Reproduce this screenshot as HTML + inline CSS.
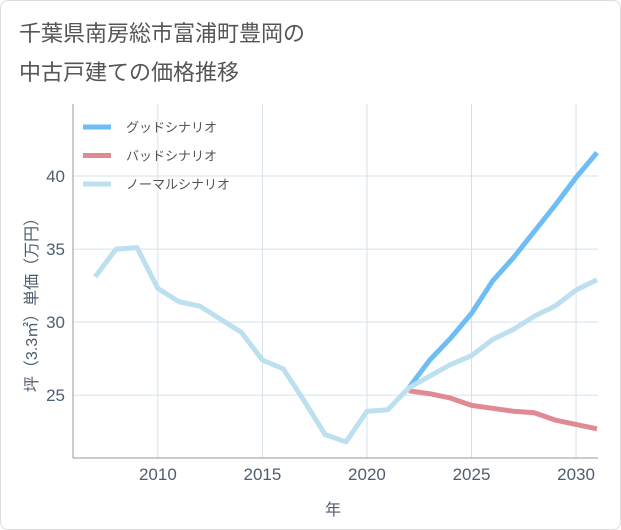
<!DOCTYPE html>
<html><head><meta charset="utf-8"><style>
body{margin:0;background:#fff;}
#c{position:relative;width:621px;height:530px;background:#fff;border:1px solid #ddd;box-sizing:border-box;border-radius:8px;overflow:hidden;font-family:"Liberation Sans","Noto Sans CJK JP",sans-serif;}
.t{position:absolute;left:18px;font-size:22px;color:#555;}
</style></head><body>
<div id="c">
<div class="t" style="top:15px">千葉県南房総市富浦町豊岡の</div>
<div class="t" style="top:54px">中古戸建ての価格推移</div>
<svg id="s" width="621" height="530" style="position:absolute;left:0;top:0"></svg>
</div>
<script>
const years=[2007,2008,2009,2010,2011,2012,2013,2014,2015,2016,2017,2018,2019,2020,2021,2022,2023,2024,2025,2026,2027,2028,2029,2030,2031];
const normal=[33.1,35.0,35.1,32.3,31.4,31.1,30.2,29.3,27.4,26.8,24.6,22.3,21.8,23.9,24.0,25.5,26.3,27.1,27.7,28.8,29.5,30.4,31.1,32.2,32.9];
const fYears=[2022,2023,2024,2025,2026,2027,2028,2029,2030,2031];
const good=[25.5,27.4,28.9,30.6,32.8,34.4,36.2,38.0,39.9,41.6];
const bad=[25.3,25.1,24.8,24.3,24.1,23.9,23.8,23.3,23.0,22.7];
const xTicks=[2010,2015,2020,2025,2030];
const yTicks=[25,30,35,40];
const L=72,R=597,T=103,B=457;
const x=v=>L+(v-2005.94)/(2031.05-2005.94)*(R-L);
const y=v=>B-(v-20.7)/(44.93-20.7)*(B-T);
const s=document.getElementById('s');const NS='http://www.w3.org/2000/svg';
function add(tag,a,name,txt){const e=document.createElementNS(NS,tag);for(const k in a)e.setAttribute(k,a[k]);


if(txt!==undefined)e.textContent=txt;s.appendChild(e);return e;}
xTicks.forEach(t=>{add('line',{x1:x(t),x2:x(t),y1:T,y2:B,stroke:'#d5e1ea','stroke-width':1},'x-grid-line');
add('text',{x:x(t),y:479,'text-anchor':'middle','font-size':17,fill:'#4f5e6e'},'x-tick-label',t);});
yTicks.forEach(t=>{add('line',{x1:L,x2:R,y1:y(t),y2:y(t),stroke:'#d5e1ea','stroke-width':1},'y-grid-line');
add('text',{x:64,y:y(t)+6,'text-anchor':'end','font-size':17,fill:'#4f5e6e'},'y-tick-label',t);});
add('line',{x1:L,x2:L,y1:T,y2:B,stroke:'#999','stroke-width':1},'y-axis-line');
add('line',{x1:L,x2:R,y1:B,y2:B,stroke:'#999','stroke-width':1},'x-axis-line');
add('text',{x:332,y:514,'text-anchor':'middle','font-size':16,fill:'#4f5e6e'},'x-axis-title','年');
add('text',{x:0,y:0,transform:'translate(36,300) rotate(-90)','text-anchor':'middle','font-size':16,fill:'#4f5e6e'},'y-axis-title','坪（3.3㎡）単価（万円）');
function line(xs,vs,c,name){add('polyline',{points:xs.map((t,i)=>x(t)+','+y(vs[i])).join(' '),fill:'none',stroke:c,'stroke-width':5,'stroke-linejoin':'round'},name);}
line(fYears,bad,'#e08b93','bad-scenario-line');
line(fYears,good,'#6ebef5','good-scenario-line');
line(years,normal,'#bde0f0','normal-scenario-line');
const leg=[['グッドシナリオ','#6ebef5'],['バッドシナリオ','#e08b93'],['ノーマルシナリオ','#bde0f0']];
leg.forEach((l,i)=>{const yy=126+i*28.5;
add('line',{x1:82,x2:110,y1:yy,y2:yy,stroke:l[1],'stroke-width':5},'legend-swatch');
add('text',{x:125,y:yy+5,'font-size':13,fill:'#555'},'legend-entry',l[0]);});
</script>
</body></html>
